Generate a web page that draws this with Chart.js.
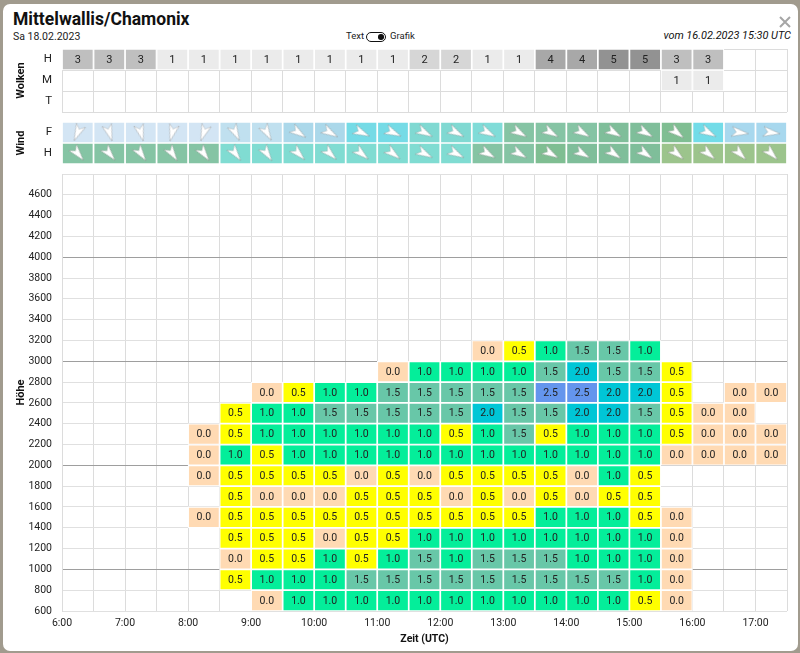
<!DOCTYPE html>
<html>
<head>
<meta charset="utf-8">
<script src="https://cdn.jsdelivr.net/npm/chart.js@4"></script>
<style>
html,body{margin:0;padding:0;width:800px;height:653px;overflow:hidden;background:#a19b8e;font-family:Roboto,sans-serif;color:#222}
#panel{position:absolute;left:3px;top:4px;width:795px;height:647px;background:#fff;border-radius:7px}
.t{position:absolute;white-space:nowrap}
canvas{position:absolute;left:0}
#toggle{position:absolute;left:366px;top:32px;width:18px;height:8px;border:1.4px solid #111;border-radius:6px;background:#fff}
#toggle i{position:absolute;right:1.5px;top:1.2px;width:5.6px;height:5.6px;border-radius:50%;background:#111}
</style>
</head>
<body>
<div id="panel"></div>
<div class="t" style="left:13px;top:9px;font-size:17.5px;font-weight:700;color:#111">Mittelwallis/Chamonix</div>
<div class="t" style="left:13px;top:30px;font-size:10.5px">Sa 18.02.2023</div>
<div class="t" style="left:346px;top:30px;font-size:9.5px">Text</div>
<div id="toggle"><i></i></div>
<div class="t" style="left:390px;top:30px;font-size:9.5px">Grafik</div>
<div class="t" style="right:9px;top:29px;font-size:10.9px;font-style:italic;color:#111">vom 16.02.2023 15:30 UTC</div>
<svg style="position:absolute;left:779px;top:16px" width="12" height="12"><path d="M1 1L11 11M11 1L1 11" stroke="#a6a6a6" stroke-width="2"/></svg>
<canvas id="cloud" width="800" height="70" style="top:45px"></canvas>
<canvas id="wind" width="800" height="50" style="top:118px"></canvas>
<canvas id="heat" width="800" height="480" style="top:171px"></canvas>
<script>
const hourLabels = ['6:00','7:00','8:00','9:00','10:00','11:00','12:00','13:00','14:00','15:00','16:00','17:00'];
const cloudRows = ['H','M','T'];
const cloudH = [3,3,3,1,1,1,1,1,1,1,1,2,2,1,1,4,4,5,5,3,3,null,null];
const cloudM = [null,null,null,null,null,null,null,null,null,null,null,null,null,null,null,null,null,null,null,1,1,null,null];
const cloudT = [null,null,null,null,null,null,null,null,null,null,null,null,null,null,null,null,null,null,null,null,null,null,null];

const windRows = ['F','H'];
const windDirF = [204,162,164,195,200,153,150,124,120,115,115,118,118,118,120,120,120,120,120,128,118,98,98];
const windDirH = [140,140,145,146,144,143,146,135,133,130,128,118,118,120,120,120,120,125,125,130,130,135,135];
const windColF = ['#d3e5f4','#d3e5f4','#d3e5f4','#d3e5f4','#d3e5f4','#c0e0ef','#c0e0ef','#abd8ea','#abd8ea','#75dbe6','#75dbe6','#80d9d2','#80d9d2','#80dcd8','#85c4a4','#85c4a4','#85c4a4','#7fbe9a','#7fbe9a','#7fbe92','#72dce8','#a8d8ee','#a8d8ee'];
const windColH = ['#85c4a4','#85c4a4','#85c4a4','#85c4a4','#85c4a4','#80dcd2','#80dcd2','#80dcd2','#80dcd2','#80dcd2','#80dcd2','#80dcd2','#80dcd2','#85c4a4','#85c4a4','#7fbe92','#7fbe9a','#7fbe9a','#7fbe9a','#9cc48c','#9cc48c','#9cc48c','#9cc48c'];

const _ = null;
const h600  = [_,_,_,_,_,_,0,1,1,1,1,1,1,1,1,1,1,1,.5,0,_,_,_];
const h800  = [_,_,_,_,_,.5,1,1,1,1.5,1.5,1.5,1.5,1.5,1.5,1.5,1.5,1.5,1,0,_,_,_];
const h1000 = [_,_,_,_,_,0,.5,.5,1,.5,1,1.5,1,1.5,1.5,1.5,1,1,1,0,_,_,_];
const h1200 = [_,_,_,_,_,.5,.5,.5,0,.5,.5,1,1,1,1,1,1,1,1,0,_,_,_];
const h1400 = [_,_,_,_,0,.5,.5,.5,.5,.5,.5,.5,.5,.5,.5,1,1,1,.5,0,_,_,_];
const h1600 = [_,_,_,_,_,.5,0,0,0,.5,.5,.5,0,.5,0,.5,0,.5,.5,_,_,_,_];
const h1800 = [_,_,_,_,0,.5,.5,.5,.5,0,.5,0,.5,.5,.5,.5,0,1,.5,_,_,_,_];
const h2000 = [_,_,_,_,0,1,.5,1,1,1,1,1,1,1,1,1,1,1,1,0,0,0,0];
const h2200 = [_,_,_,_,0,.5,1,1,1,1,1,1,.5,1,1.5,.5,1,1,1,.5,0,0,0];
const h2400 = [_,_,_,_,_,.5,1,1,1.5,1.5,1.5,1.5,1.5,2,1.5,1.5,2,2,1.5,.5,0,0,_];
const h2600 = [_,_,_,_,_,_,0,.5,1,1,1.5,1.5,1.5,1.5,1.5,2.5,2.5,2,2,.5,_,0,0];
const h2800 = [_,_,_,_,_,_,_,_,_,_,0,1,1,1,1,1.5,2,1.5,1.5,.5,_,_,_];
const h3000 = [_,_,_,_,_,_,_,_,_,_,_,_,_,0,.5,1,1.5,1.5,1,_,_,_,_];
const heightBases = [600,800,1000,1200,1400,1600,1800,2000,2200,2400,2600,2800,3000];
const heightRows = [h600,h800,h1000,h1200,h1400,h1600,h1800,h2000,h2200,h2400,h2600,h2800,h3000];

const heatColors = {0:'#ffdab3',0.5:'#ffff00',1:'#04ee9a',1.5:'#68c7a8',2:'#00c6d6',2.5:'#6495ed'};
const cloudColors = {1:'#ebebeb',2:'#d6d6d6',3:'#bfbfbf',4:'#a8a8a8',5:'#929292'};

const slotStart = i => 6 + i * 0.5;
const FONT = 'Roboto';

const valueLabels = {
  id:'valueLabels',
  afterDatasetsDraw(chart, args, opts){
    const ctx = chart.ctx;
    ctx.save();
    ctx.font = opts.font || ('10.5px ' + FONT);
    ctx.fillStyle = '#222';
    ctx.textAlign = 'center';
    ctx.textBaseline = 'middle';
    chart.data.datasets.forEach((ds, di) => {
      if (ds.type === 'scatter') return;
      const meta = chart.getDatasetMeta(di);
      meta.data.forEach((el, i) => {
        const raw = ds.data[i];
        if (!raw || raw.label === undefined) return;
        const c = el.getCenterPoint();
        ctx.fillText(raw.label, c.x, c.y + 0.5);
      });
    });
    ctx.restore();
  }
};

const baseOpts = {
  responsive:false, animation:false, devicePixelRatio:1,
  plugins:{legend:{display:false}, tooltip:{enabled:false}},
  events:[]
};
const noPad = s => { s.paddingLeft = s.paddingRight = s.paddingTop = s.paddingBottom = 0; };
const fitY = s => { s.width = 62; noPad(s); };
const yTitle = (text, pad) => ({display:true, text, color:'#111', font:{family:FONT, size:11, weight:'bold'}, padding:{top:pad, bottom:0}});
const xStrip = (gridOn) => ({
  type:'linear', min:6, max:17.5, offset:false,
  afterFit:s=>{s.height=0;noPad(s);},
  ticks:{display:false, stepSize:.5},
  border:{display:false},
  grid:{display:gridOn, offset:false, color:'#dcdcdc', drawTicks:false, lineWidth:1}
});
const yStrip = (rows, title, gridOn) => ({
  type:'category', labels:rows, offset:true, afterFit:fitY,
  ticks:{padding:10, autoSkip:false, color:'#222', font:{family:FONT, size:11.5}},
  border:{display:gridOn, color:'#dcdcdc'},
  grid:{display:gridOn, offset:true, color:'#dcdcdc', drawTicks:false},
  title:yTitle(title, 15)
});
const stripBar = {barPercentage:1, categoryPercentage:1, grouped:false, borderColor:'#fff', borderWidth:1.2, borderSkipped:false, order:1};

function cloudDataset(values, row){
  const cells = [];
  values.forEach((v,i)=>{ if(v!==null) cells.push({x:[slotStart(i),slotStart(i+1)], y:row, label:String(v)}); });
  return {...stripBar, type:'bar', data:cells, backgroundColor:cells.map(c=>cloudColors[c.label])};
}
new Chart(document.getElementById('cloud'),{
  type:'bar',
  data:{datasets:[cloudDataset(cloudH,'H'),cloudDataset(cloudM,'M'),cloudDataset(cloudT,'T')]},
  options:{...baseOpts, indexAxis:'y', layout:{autoPadding:false, padding:{top:4,bottom:3,right:13,left:0}},
    plugins:{...baseOpts.plugins, valueLabels:{font:'11px '+FONT}},
    scales:{x:xStrip(true), y:yStrip(cloudRows,'Wolken',true)}},
  plugins:[valueLabels]
});

function makeArrow(){
  const c = document.createElement('canvas');
  c.width = 24; c.height = 24;
  const g = c.getContext('2d');
  g.beginPath();
  g.moveTo(12,3); g.lineTo(17,20); g.lineTo(12,15.5); g.lineTo(7,20); g.closePath();
  g.fillStyle = '#fff'; g.fill();
  g.strokeStyle = 'rgba(110,110,110,.5)'; g.lineWidth = .6; g.stroke();
  return c;
}
const arrow = makeArrow();
function windBars(cols,row){
  return {...stripBar, type:'bar', data:cols.map((c,i)=>({x:[slotStart(i),slotStart(i+1)], y:row})), backgroundColor:cols};
}
function windArrows(dirs,row){
  return {type:'scatter', order:0, showLine:false, pointStyle:arrow, pointRadius:10, rotation:dirs,
    data:dirs.map((d,i)=>({x:slotStart(i)+.25, y:row}))};
}
new Chart(document.getElementById('wind'),{
  type:'bar',
  data:{datasets:[windBars(windColF,'F'),windBars(windColH,'H'),windArrows(windDirF,'F'),windArrows(windDirH,'H')]},
  options:{...baseOpts, indexAxis:'y', layout:{autoPadding:false, padding:{top:4,bottom:4,right:13,left:0}},
    scales:{x:xStrip(false), y:yStrip(windRows,'Wind',false)}}
});

function heatDataset(values, base){
  const cells = [];
  values.forEach((v,i)=>{ if(v!==null) cells.push({x:slotStart(i)+.25, y:[base,base+200], label:v.toFixed(1)}); });
  return {type:'bar', data:cells, backgroundColor:cells.map(c=>heatColors[parseFloat(c.label)]),
    barPercentage:1, categoryPercentage:1, grouped:false, borderColor:'#fff', borderWidth:1.2, borderSkipped:false};
}
new Chart(document.getElementById('heat'),{
  type:'bar',
  data:{datasets:heightRows.map((r,k)=>heatDataset(r,heightBases[k]))},
  options:{...baseOpts, layout:{autoPadding:false, padding:{top:3,bottom:0,right:13,left:0}},
    plugins:{...baseOpts.plugins, valueLabels:{font:'10.5px '+FONT}},
    scales:{
      x:{type:'linear', min:6, max:17.5, offset:false, afterFit:s=>{s.height=40;noPad(s);},
        ticks:{stepSize:.5, autoSkip:false, maxRotation:0, padding:6.5, color:'#222', font:{family:FONT,size:10.5},
          callback:v=>Number.isInteger(v)?hourLabels[v-6]:''},
        border:{display:false},
        grid:{offset:false, color:'#dcdcdc', drawTicks:false},
        title:{display:true, text:'Zeit (UTC)', color:'#111', font:{family:FONT,size:10.5,weight:'bold'}, padding:{top:0,bottom:5}}},
      y:{type:'linear', min:600, max:4800, afterFit:fitY,
        ticks:{stepSize:200, autoSkip:false, padding:10, color:'#222', font:{family:FONT,size:10.5},
          callback:v=>v===4800?'':String(v)},
        border:{color:'#dcdcdc'},
        grid:{drawTicks:false, color:c=>c.tick.value%1000===0?'#9e9e9e':'#e0e0e0', lineWidth:1},
        title:yTitle('Höhe',15)}
    }},
  plugins:[valueLabels]
});
</script>
</body>
</html>
